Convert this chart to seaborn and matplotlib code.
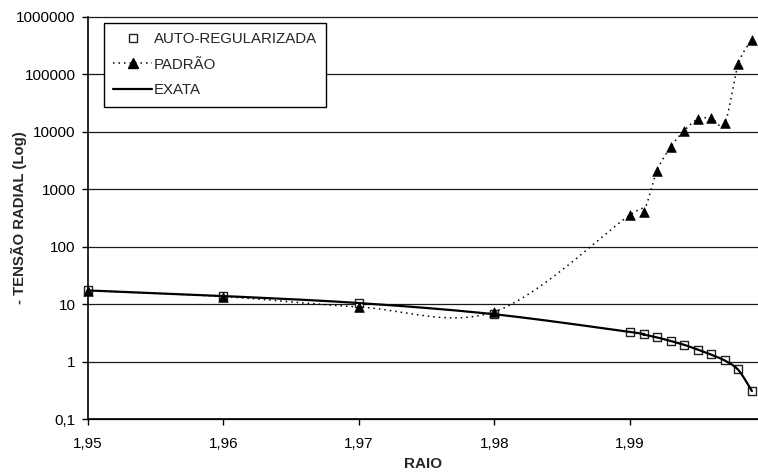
import numpy as np
import pandas as pd
import matplotlib
matplotlib.use("Agg")
import matplotlib.pyplot as plt
from matplotlib.lines import Line2D
from matplotlib.ticker import FixedLocator, FixedFormatter, NullLocator
import seaborn as sns

# radius values
raio = [1.95, 1.96, 1.97, 1.98, 1.99, 1.991, 1.992, 1.993, 1.994,
        1.995, 1.996, 1.997, 1.998, 1.999]
# -radial stress, self-regularized BEM
auto_reg = [17.6, 14.0, 10.5, 6.7, 3.34, 3.01, 2.67, 2.30, 1.98,
            1.62, 1.35, 1.06, 0.74, 0.31]
# -radial stress, standard BEM
padrao = [17.3, 13.6, 8.97, 7.44, 357, 408, 2106, 5375, 10450,
          16500, 17170, 14060, 151000, 395000]
# -radial stress, exact solution
exata = [17.4, 13.9, 10.5, 6.7, 3.30, 2.98, 2.65, 2.30, 1.97,
         1.63, 1.33, 1.05, 0.72, 0.31]

y_ticks = [0.1, 1, 10, 100, 1000, 10000, 100000, 1000000]
y_tick_labels = ["0,1", "1", "10", "100", "1000", "10000", "100000", "1000000"]
x_ticks = [1.95, 1.96, 1.97, 1.98, 1.99]
x_tick_labels = ["1,95", "1,96", "1,97", "1,98", "1,99"]


def smooth_curve(xs, ys, n=40):
    """Cardinal (Catmull-Rom) Bezier smoothing in (x, log10 y) space."""
    p = np.column_stack([np.asarray(xs, float), np.log10(np.asarray(ys, float))])
    ext = np.vstack([p[0], p, p[-1]])
    out = []
    t = np.linspace(0, 1, n)[:, None]
    for i in range(len(p) - 1):
        p0, p1 = ext[i + 1], ext[i + 2]
        c1 = p0 + (ext[i + 2] - ext[i]) / 6.0
        c2 = p1 - (ext[i + 3] - ext[i + 1]) / 6.0
        seg = ((1 - t) ** 3) * p0 + 3 * ((1 - t) ** 2) * t * c1 \
            + 3 * (1 - t) * t ** 2 * c2 + t ** 3 * p1
        out.append(seg if i == 0 else seg[1:])
    arr = np.vstack(out)
    return pd.DataFrame({"raio": arr[:, 0], "valor": 10 ** arr[:, 1]})


sns.set_theme(style="white")
plt.rcParams["font.family"] = ["Liberation Sans", "DejaVu Sans"]

fig = plt.figure(figsize=(7.58, 4.73), dpi=100)
ax = fig.add_axes([88 / 758, 53.7 / 473, 670 / 758, 402.6 / 473])
ax.set_yscale("log")
ax.set_xlim(1.95, 1.99945)
ax.set_ylim(0.1, 1000000)

# horizontal gridlines at each decade
for v in y_ticks:
    ax.axhline(v, color="#1a1a1a", lw=0.9, zorder=1, clip_on=False)

df_auto = pd.DataFrame({"raio": raio, "valor": auto_reg})
df_pad = pd.DataFrame({"raio": raio, "valor": padrao})

sns.scatterplot(data=df_auto, x="raio", y="valor", ax=ax, marker="s", s=30,
                facecolor="white", edgecolor="#222222", linewidth=1.0,
                zorder=3, clip_on=False, legend=False)

sns.lineplot(data=smooth_curve(raio, padrao), x="raio", y="valor", ax=ax,
             sort=False, estimator=None, color="black", lw=1.1,
             linestyle=(0, (1, 2.6)), zorder=4)
sns.scatterplot(data=df_pad, x="raio", y="valor", ax=ax, marker="^", s=48,
                color="black", edgecolor="black", linewidth=0.5,
                zorder=5, clip_on=False, legend=False)

sns.lineplot(data=smooth_curve(raio, exata), x="raio", y="valor", ax=ax,
             sort=False, estimator=None, color="black", lw=1.6, zorder=6)

ax.yaxis.set_major_locator(FixedLocator(y_ticks))
ax.yaxis.set_major_formatter(FixedFormatter(y_tick_labels))
ax.yaxis.set_minor_locator(NullLocator())
ax.xaxis.set_major_locator(FixedLocator(x_ticks))
ax.xaxis.set_major_formatter(FixedFormatter(x_tick_labels))

ax.tick_params(axis="y", which="major", direction="out", length=4, width=1,
               color="black", pad=5, labelsize=11, labelcolor="black", left=True)
ax.tick_params(axis="x", which="major", direction="out", length=4, width=1,
               color="black", pad=9, labelsize=11, labelcolor="black", bottom=True)

for side in ("top", "right"):
    ax.spines[side].set_visible(False)
for side in ("left", "bottom"):
    ax.spines[side].set_color("black")
    ax.spines[side].set_linewidth(1.2)
    ax.spines[side].set_zorder(7)

ax.set_xlabel("RAIO", fontsize=11, fontweight="bold", labelpad=4)
ax.set_ylabel("- TENSÃO RADIAL (Log)", fontsize=10.7, fontweight="bold")
ax.yaxis.set_label_coords(-0.091, 0.5)

handles = [
    Line2D([], [], marker="s", linestyle="none", markersize=5.5,
           markerfacecolor="white", markeredgecolor="#222222", markeredgewidth=1.0),
    Line2D([], [], marker="^", linestyle=(0, (1, 2.6)), color="black", lw=1.1,
           markersize=6.5),
    Line2D([], [], color="black", lw=1.6),
]
leg = ax.legend(handles, ["AUTO-REGULARIZADA", "PADRÃO", "EXATA"],
                loc="upper left", bbox_to_anchor=(0.0239, 0.985),
                borderaxespad=0, fontsize=10.8, frameon=True, fancybox=False,
                edgecolor="black", framealpha=1, handlelength=2.6,
                handletextpad=0.1, borderpad=0.62, labelspacing=0.78)
leg.get_frame().set_linewidth(1.0)
leg.set_zorder(10)

fig.savefig("out.png", dpi=100, facecolor="white")
